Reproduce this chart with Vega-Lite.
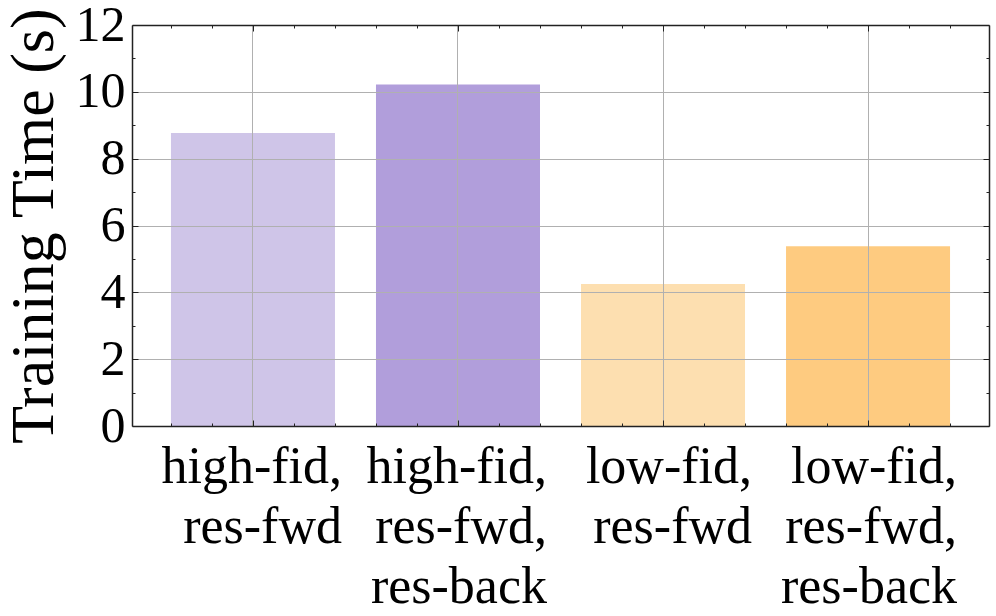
{
  "$schema": "https://vega.github.io/schema/vega-lite/v6.json",
  "width": 857,
  "height": 401,
  "autosize": {"type": "none"},
  "padding": {"left": 132, "top": 25, "right": 7, "bottom": 190},
  "background": "white",
  "config": {
    "view": {"stroke": null},
    "font": "Liberation Serif"
  },
  "data": {
    "values": [
      {"config": "high-fid,\nres-fwd", "time": 8.77},
      {"config": "high-fid,\nres-fwd,\nres-back", "time": 10.22},
      {"config": "low-fid,\nres-fwd", "time": 4.25},
      {"config": "low-fid,\nres-fwd,\nres-back", "time": 5.38}
    ]
  },
  "layer": [
    {
      "mark": {"type": "bar"},
      "encoding": {
        "x": {
          "field": "config", "type": "nominal", "sort": null,
          "scale": {"paddingInner": 0.2, "paddingOuter": 0.19},
          "axis": {
            "orient": "bottom", "title": null,
            "labelExpr": "split(datum.label, '\\n')",
            "labelAngle": 0, "labelAlign": "right", "labelBaseline": "top",
            "labelOffset": 89, "labelPadding": 15, "labelFontSize": 52,
            "labelLineHeight": 60, "labelColor": "#000", "labelFont": "Liberation Serif",
            "labelLimit": 0, "ticks": false, "domain": false,
            "grid": true, "gridColor": "#b0b0b0", "gridWidth": 1,
            "bandPosition": 0.5, "zindex": 1
          }
        },
        "y": {
          "field": "time", "type": "quantitative",
          "scale": {"domain": [0, 12], "nice": false},
          "axis": {
            "orient": "left", "title": "Training Time (s)",
            "values": [0, 2, 4, 6, 8, 10, 12],
            "labelFontSize": 50, "labelPadding": 7, "labelColor": "#000",
            "labelFont": "Liberation Serif",
            "ticks": false, "domain": false,
            "grid": true, "gridColor": "#b0b0b0", "gridWidth": 1,
            "gridOpacity": {"condition": {"test": "datum.value > 0 && datum.value < 12", "value": 1}, "value": 0},
            "titleFontSize": 62, "titleFontWeight": "normal", "titleColor": "#000",
            "titleFont": "Liberation Serif", "titlePadding": 10, "zindex": 1
          }
        },
        "color": {
          "field": "config", "type": "nominal", "sort": null,
          "scale": {"range": ["#cfc5e8", "#b19edb", "#fddfb0", "#fecb80"]},
          "legend": null
        }
      }
    },
    {
      "mark": {"type": "point", "opacity": 0},
      "encoding": {
        "x": {
          "datum": 0, "type": "quantitative",
          "scale": {"domain": [-0.59, 3.59], "nice": false, "zero": false},
          "axis": {
            "orient": "bottom", "title": null, "labels": false, "grid": false,
            "values": [-0.4, -0.2, 0, 0.2, 0.4, 0.6, 0.8, 1, 1.2, 1.4, 1.6, 1.8, 2, 2.2, 2.4, 2.6, 2.8, 3, 3.2, 3.4],
            "tickColor": "#222", "tickWidth": 1,
            "tickSize": {"condition": {"test": "abs(datum.value - round(datum.value)) < 0.001", "value": -6}, "value": -3},
            "domain": true, "domainColor": "#222", "domainWidth": 1.5, "zindex": 2
          }
        },
        "y": {
          "datum": 0, "type": "quantitative",
          "scale": {"domain": [0, 12], "nice": false},
          "axis": {
            "orient": "left", "title": null, "labels": false, "grid": false,
            "values": [0, 1, 2, 3, 4, 5, 6, 7, 8, 9, 10, 11, 12],
            "tickColor": "#222", "tickWidth": 1,
            "tickSize": {"condition": {"test": "datum.value % 2 === 0", "value": -6}, "value": -3},
            "domain": true, "domainColor": "#222", "domainWidth": 1.5, "zindex": 2
          }
        }
      }
    },
    {
      "mark": {"type": "point", "opacity": 0},
      "encoding": {
        "x": {
          "datum": 0, "type": "quantitative",
          "scale": {"domain": [-0.59, 3.59], "nice": false, "zero": false},
          "axis": {
            "orient": "top", "title": null, "labels": false, "grid": false,
            "values": [-0.4, -0.2, 0, 0.2, 0.4, 0.6, 0.8, 1, 1.2, 1.4, 1.6, 1.8, 2, 2.2, 2.4, 2.6, 2.8, 3, 3.2, 3.4],
            "tickColor": "#222", "tickWidth": 1,
            "tickSize": {"condition": {"test": "abs(datum.value - round(datum.value)) < 0.001", "value": -6}, "value": -3},
            "domain": true, "domainColor": "#222", "domainWidth": 1.5, "zindex": 2
          }
        },
        "y": {
          "datum": 0, "type": "quantitative",
          "scale": {"domain": [0, 12], "nice": false},
          "axis": {
            "orient": "right", "title": null, "labels": false, "grid": false,
            "values": [0, 1, 2, 3, 4, 5, 6, 7, 8, 9, 10, 11, 12],
            "tickColor": "#222", "tickWidth": 1,
            "tickSize": {"condition": {"test": "datum.value % 2 === 0", "value": -6}, "value": -3},
            "domain": true, "domainColor": "#222", "domainWidth": 1.5, "zindex": 2
          }
        }
      }
    }
  ],
  "resolve": {
    "scale": {"x": "independent", "y": "independent", "color": "independent"},
    "axis": {"x": "independent", "y": "independent"}
  }
}
